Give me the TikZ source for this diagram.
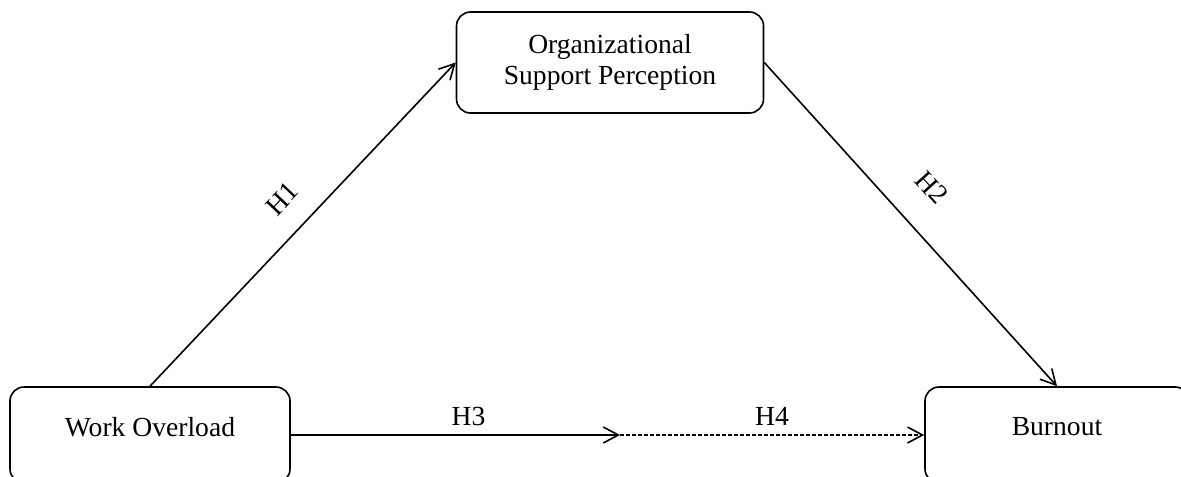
\documentclass[tikz,border=0pt]{standalone}
\usepackage{fontspec}
\setmainfont{Liberation Serif}
\usetikzlibrary{arrows.meta}
\tikzset{
  box/.style={draw,rounded corners=7pt,line width=0.8pt,align=center,font=\fontsize{13.8}{15.5}\selectfont},
  lowbox/.style={box,minimum width=140pt,minimum height=48pt,text depth=8.5pt},
  link/.style={line width=0.8pt,-{Straight Barb[length=7.5pt,width=8pt]}},
  hyp/.style={font=\fontsize{13.8}{15.5}\selectfont}
}
\begin{document}
\begin{tikzpicture}[x=0.5pt,y=-0.5pt]
\useasboundingbox(0,0)rectangle(1181,476);
%
\node[lowbox](wo)at(150,435){Work Overload};
\node[lowbox,minimum width=132pt](bo)at(1057,435){Burnout};
\node[box,minimum width=153.5pt,minimum height=50.5pt](osp)at(610,62.5){Organizational\\Support Perception};
\coordinate(mid)at(620,435);
%
\draw[link](wo.north)--node[hyp,pos=0.51,sloped,above=8pt]{H1}(osp.west);
\draw[link](osp.east)--node[hyp,pos=0.47,sloped,above=12pt]{H2}(bo.north);
%
\draw[link](wo.east)--node[hyp,pos=0.54,above=1pt]{H3}(mid);
\draw[link,dash pattern=on 2pt off 1pt](mid)--node[hyp,above=1pt]{H4}(bo.west);
\end{tikzpicture}
\end{document}
